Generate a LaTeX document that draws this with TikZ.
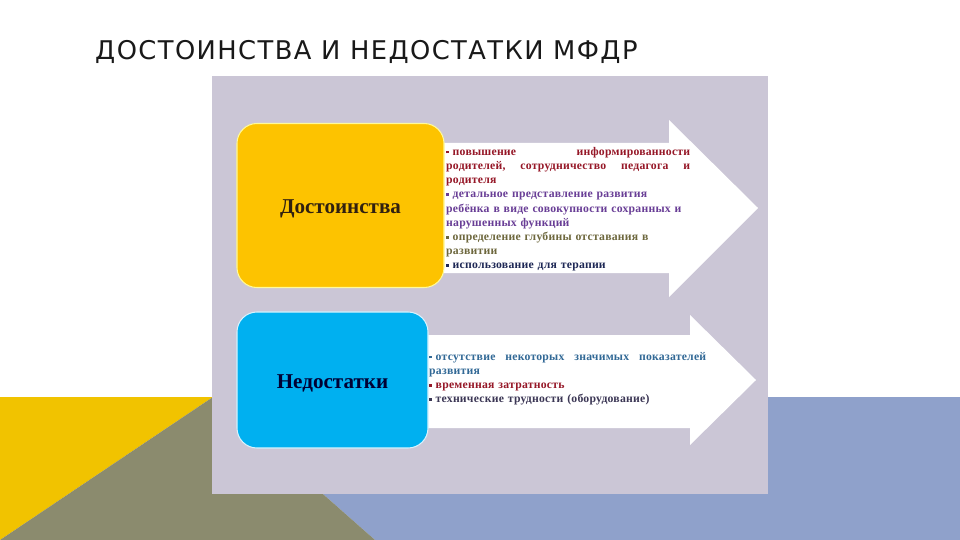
\documentclass[tikz,border=0pt]{standalone}
\usepackage{fontspec}
\setmainfont{Liberation Serif}
\newfontfamily\titlefont[LetterSpace=5.5]{DejaVu Sans}
\newfontfamily\listfont[LetterSpace=2]{Liberation Serif}
\usetikzlibrary{positioning}

\definecolor{panelgray}{RGB}{203,198,214}
\definecolor{dostyellow}{RGB}{253,195,0}
\definecolor{nedblue}{RGB}{0,176,240}
\definecolor{cornyellow}{RGB}{241,195,0}
\definecolor{cornolive}{RGB}{139,139,110}
\definecolor{cornblue}{RGB}{143,161,203}
\definecolor{txtred}{RGB}{150,24,40}
\definecolor{txtpurple}{RGB}{105,62,150}
\definecolor{txtolive}{RGB}{110,104,62}
\definecolor{txtnavy}{RGB}{30,40,85}
\definecolor{txtsteel}{RGB}{50,105,150}
\definecolor{txtslate}{RGB}{60,55,85}

\newcommand\bul{\raisebox{0.35ex}{\rule{2.2pt}{2.2pt}}}

\begin{document}
\begin{tikzpicture}[x=0.03cm,y=-0.03cm,
                    box/.style={line width=0.9pt,rounded corners=17pt,inner sep=0pt},
                    boxlabel/.style={inner sep=0pt,font=\fontsize{18}{21}\selectfont\bfseries},
                    list/.style={anchor=north west,inner sep=0pt,align=left,
                                 font=\listfont\fontsize{10}{12.1}\selectfont\bfseries}]
  \useasboundingbox (0,0) rectangle (960,540);

  % corner shapes
  \fill[cornyellow] (0,397) -- (213,397) -- (0,540) -- cycle;
  \fill[cornblue]   (213,397) -- (960,397) -- (960,540) -- (375,540) -- cycle;
  \fill[cornolive]  (0,540) -- (213,397) -- (375,540) -- cycle;

  \node[font=\titlefont\fontsize{22}{25}\selectfont,anchor=base west,inner sep=0pt,
        text=black!90] (title) at (95,60) {ДОСТОИНСТВА И НЕДОСТАТКИ МФДР};

  \fill[panelgray] (212,76) rectangle (768,494);

  % arrows
  \fill[white] (430,143) -- (669,143) -- (669,120) -- (758,208) -- (669,297)
               -- (669,273) -- (430,273) -- cycle;
  \fill[white] (420,335) -- (690,335) -- (690,315) -- (756,380) -- (690,445)
               -- (690,428) -- (420,428) -- cycle;

  \node[box,draw=yellow!40!white,fill=dostyellow,
        minimum width=6.21cm,minimum height=4.92cm] (dost) at (340.5,205.5) {};
  \node[box,draw=cyan!15!white,fill=nedblue,
        minimum width=5.73cm,minimum height=4.08cm] (ned) at (332.5,380) {};
  \node[boxlabel,text=black!75!brown] (dostlabel) at ([yshift=-2.5pt]dost.center) {Достоинства};
  \node[boxlabel,text=black!80!blue]  (nedlabel)  at ([yshift=-2.5pt]ned.center) {Недостатки};

  \node[list,text width=7.32cm] (plus) at (446,147) {%
    \textcolor{txtred}{\bul\ повышение \hfill информированности}\\
    \textcolor{txtred}{родителей, \hfill сотрудничество \hfill педагога \hfill и}\\
    \textcolor{txtred}{родителя}\\
    \textcolor{txtpurple}{\bul\ детальное представление развития}\\
    \textcolor{txtpurple}{ребёнка в виде совокупности сохранных и}\\
    \textcolor{txtpurple}{нарушенных функций}\\
    \textcolor{txtolive}{\bul\ определение глубины отставания в}\\
    \textcolor{txtolive}{развитии}\\
    \textcolor{txtnavy}{\bul\ использование для терапии}};

  \node[list,text width=8.31cm] (minus) at (429,352) {%
    \textcolor{txtsteel}{\bul\ отсутствие \hfill некоторых \hfill значимых \hfill показателей}\\
    \textcolor{txtsteel}{развития}\\
    \textcolor{txtred}{\bul\ временная затратность}\\
    \textcolor{txtslate}{\bul\ технические трудности (оборудование)}};

\end{tikzpicture}
\end{document}
